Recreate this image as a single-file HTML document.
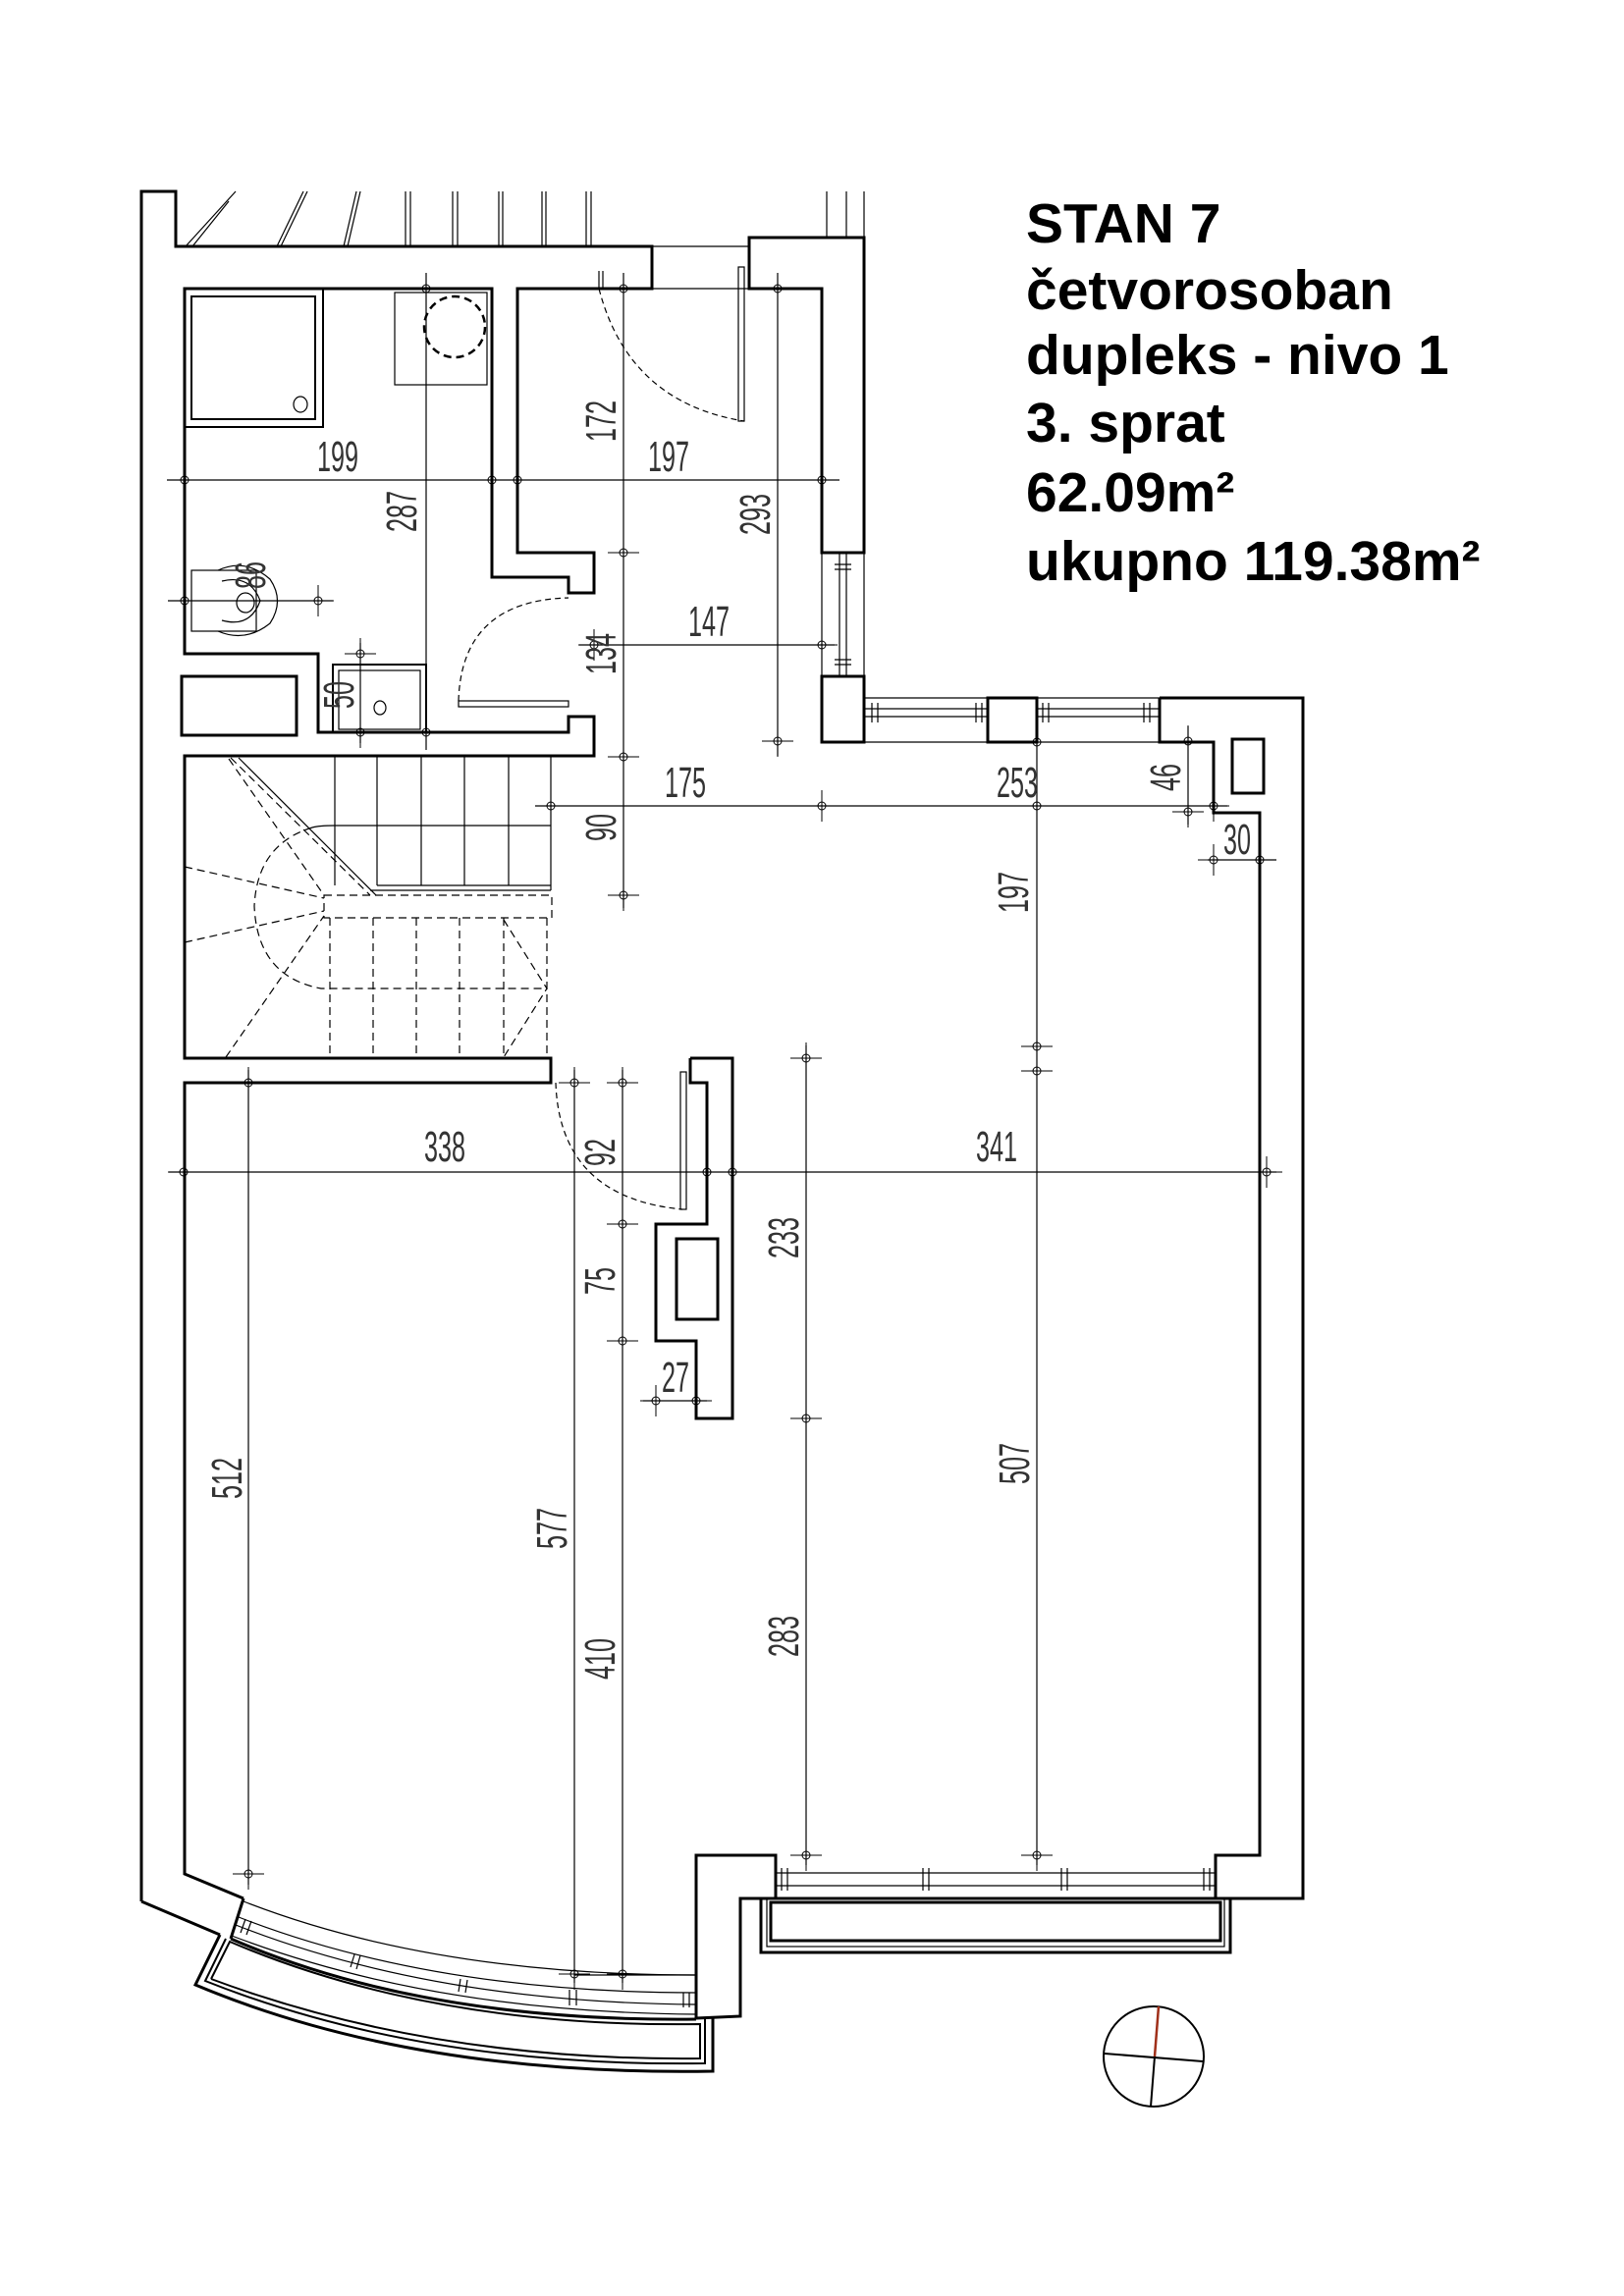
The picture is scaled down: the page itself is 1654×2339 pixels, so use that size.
<!DOCTYPE html>
<html><head><meta charset="utf-8"><style>
html,body{margin:0;padding:0;background:#fff}
svg{display:block}
.t{font-family:"Liberation Sans",sans-serif;font-size:44px;fill:#333}
.h{font-family:"Liberation Sans",sans-serif;font-size:57px;font-weight:bold;fill:#000}
</style></head><body>
<svg width="1654" height="2339" viewBox="0 0 1654 2339" xmlns="http://www.w3.org/2000/svg">
<defs>
<g id="tk"><circle r="4" fill="none" stroke="#000" stroke-width="1"/><line x1="-16" y1="0" x2="16" y2="0" stroke="#000" stroke-width="1"/><line x1="0" y1="-16" x2="0" y2="16" stroke="#000" stroke-width="1"/></g>
</defs>
<rect width="1654" height="2339" fill="#fff"/>

<text class="h" x="1045" y="247">STAN 7</text>
<text class="h" x="1045" y="315">četvorosoban</text>
<text class="h" x="1045" y="381">dupleks - nivo 1</text>
<text class="h" x="1045" y="450">3. sprat</text>
<text class="h" x="1045" y="521">62.09m²</text>
<text class="h" x="1045" y="591">ukupno 119.38m²</text>

<g fill="none" stroke="#000" stroke-width="1.2">
<line x1="240" y1="195" x2="189" y2="251"/><line x1="233" y1="205" x2="196" y2="251"/>
<line x1="313" y1="195" x2="286" y2="251"/><line x1="309" y1="195" x2="282" y2="251"/>
<line x1="367" y1="195" x2="354" y2="251"/><line x1="363" y1="195" x2="350" y2="251"/>
<line x1="413" y1="195" x2="413" y2="251"/><line x1="418" y1="195" x2="418" y2="251"/>
<line x1="461" y1="195" x2="461" y2="251"/><line x1="466" y1="195" x2="466" y2="251"/>
<line x1="508" y1="195" x2="508" y2="251"/><line x1="512" y1="195" x2="512" y2="251"/>
<line x1="552" y1="195" x2="552" y2="251"/><line x1="556" y1="195" x2="556" y2="251"/>
<line x1="597" y1="195" x2="597" y2="251"/><line x1="602" y1="195" x2="602" y2="251"/>
<line x1="842" y1="195" x2="842" y2="242"/><line x1="880" y1="195" x2="880" y2="242"/>
<line x1="862" y1="195" x2="862" y2="242"/>
<line x1="664" y1="251" x2="763" y2="251"/><line x1="664" y1="294" x2="763" y2="294"/>
</g>

<g fill="none" stroke="#000" stroke-width="3" stroke-linejoin="miter">
<polyline points="144,1937 144,195 179,195 179,251 664,251 664,294 527,294 527,563 605,563 605,604 579,604 579,588 501,588 501,294 188,294 188,666 324,666 324,746 579,746 579,730 605,730 605,770 188,770 188,1078 561,1078 561,1103 188,1103 188,1909 248,1934"/>
<line x1="144" y1="1937" x2="224" y2="1971"/>
<line x1="248" y1="1934" x2="235" y2="1975"/>
<polygon points="763,242 880,242 880,563 837,563 837,294 763,294"/>
<polygon points="837,689 880,689 880,756 837,756"/>
<polygon points="1006,711 1056,711 1056,756 1006,756"/>
<polyline points="1181,711 1327,711 1327,1934 1238,1934 1238,1890 1283,1890 1283,828 1236,828 1236,756 1181,756 1181,711"/>
<polyline points="709,2056 709,1890 790,1890 790,1934 754,1934 754,2054 709,2056"/>
<polyline points="703,1078 746,1078 746,1445 709,1445 709,1366 668,1366 668,1247 720,1247 720,1103 703,1103 703,1078"/>
<rect x="689" y="1262" width="42" height="82"/>
<rect x="185" y="689" width="117" height="60"/>
<rect x="1255" y="753" width="32" height="55"/>
<path d="M235,1975 Q430,2060 709,2057"/>
<path d="M224,1971 L199,2022 Q420,2115 726,2110 L726,2056"/>
<path d="M230,1975 L209,2018 Q430,2106 718,2102 L718,2057" stroke-width="2"/>
<path d="M215,2016 L234,1978 Q440,2066 713,2062 L713,2097 Q440,2100 215,2016" stroke-width="2"/>
<rect x="775" y="1934" width="478" height="55"/>
<rect x="785" y="1938" width="458" height="39"/>
</g>
<g fill="none" stroke="#000" stroke-width="1.2">
<rect x="781" y="1934" width="466" height="49"/>
<path d="M248,1937 Q440,2012 709,2012"/>
<path d="M243,1953 Q440,2030 709,2030"/>
<path d="M240,1961 Q440,2040 709,2042"/>
<path d="M236,1972 Q440,2050 709,2052"/>
<line x1="250" y1="1955" x2="245" y2="1969"/><line x1="256" y1="1957" x2="251" y2="1971"/>
<line x1="361" y1="1991" x2="357" y2="2004"/><line x1="367" y1="1992" x2="363" y2="2006"/>
<line x1="469" y1="2016" x2="467" y2="2029"/><line x1="476" y1="2017" x2="474" y2="2030"/>
<line x1="580" y1="2027" x2="580" y2="2043"/><line x1="587" y1="2027" x2="587" y2="2043"/>
<line x1="696" y1="2030" x2="696" y2="2045"/><line x1="702" y1="2030" x2="702" y2="2045"/>
<line x1="790" y1="1908" x2="1238" y2="1908"/><line x1="790" y1="1921" x2="1238" y2="1921"/>
<line x1="796" y1="1903" x2="796" y2="1926"/><line x1="802" y1="1903" x2="802" y2="1926"/>
<line x1="940" y1="1903" x2="940" y2="1926"/><line x1="946" y1="1903" x2="946" y2="1926"/>
<line x1="1081" y1="1903" x2="1081" y2="1926"/><line x1="1087" y1="1903" x2="1087" y2="1926"/>
<line x1="1226" y1="1903" x2="1226" y2="1926"/><line x1="1232" y1="1903" x2="1232" y2="1926"/>
<line x1="880" y1="711" x2="1181" y2="711"/><line x1="880" y1="756" x2="1181" y2="756"/>
<line x1="880" y1="722" x2="1006" y2="722"/><line x1="880" y1="730" x2="1006" y2="730"/>
<line x1="1056" y1="722" x2="1181" y2="722"/><line x1="1056" y1="730" x2="1181" y2="730"/>
<line x1="888" y1="716" x2="888" y2="736"/><line x1="894" y1="716" x2="894" y2="736"/>
<line x1="994" y1="716" x2="994" y2="736"/><line x1="1000" y1="716" x2="1000" y2="736"/>
<line x1="1062" y1="716" x2="1062" y2="736"/><line x1="1068" y1="716" x2="1068" y2="736"/>
<line x1="1165" y1="716" x2="1165" y2="736"/><line x1="1171" y1="716" x2="1171" y2="736"/>
<line x1="837" y1="563" x2="837" y2="689"/><line x1="880" y1="563" x2="880" y2="689"/>
<line x1="855" y1="563" x2="855" y2="689"/><line x1="862" y1="563" x2="862" y2="689"/>
<line x1="850" y1="575" x2="867" y2="575"/><line x1="850" y1="580" x2="867" y2="580"/>
<line x1="850" y1="672" x2="867" y2="672"/><line x1="850" y1="677" x2="867" y2="677"/>

<rect x="188" y="294" width="141" height="141" stroke-width="2"/>
<rect x="195" y="302" width="126" height="125" stroke-width="2"/>
<ellipse cx="306" cy="412" rx="7" ry="8"/>
<rect x="402" y="298" width="94" height="94"/>
<ellipse cx="463" cy="333" rx="31" ry="31" stroke-width="2.5" stroke-dasharray="8,5"/>
<rect x="195" y="581" width="66" height="62"/>
<path d="M222,581 Q250,568 275,590 Q290,612 275,635 Q250,655 222,643"/>
<path d="M226,592 Q255,585 265,612 Q255,640 226,632"/>
<ellipse cx="250" cy="614" rx="9" ry="10"/>
<rect x="339" y="677" width="95" height="69" stroke-width="2"/>
<rect x="345" y="683" width="83" height="60"/>
<ellipse cx="387" cy="721" rx="6" ry="7"/>

<path d="M610,294 Q640,410 758,429" stroke-dasharray="6,4"/>
<rect x="752" y="272" width="6" height="157"/>
<line x1="610" y1="276" x2="610" y2="294"/><line x1="614" y1="276" x2="614" y2="294"/>
<path d="M467,714 Q470,612 579,609" stroke-dasharray="6,4"/>
<rect x="467" y="714" width="112" height="6"/>
<path d="M566,1103 Q570,1220 695,1232" stroke-dasharray="6,4"/>
<rect x="693" y="1092" width="6" height="140"/>

<line x1="341" y1="771" x2="341" y2="902"/><line x1="384" y1="771" x2="384" y2="902"/>
<line x1="429" y1="771" x2="429" y2="902"/><line x1="473" y1="771" x2="473" y2="902"/>
<line x1="518" y1="771" x2="518" y2="902"/><line x1="561" y1="771" x2="561" y2="907"/>
<path d="M318,843 Q325,841 341,841 L561,841"/>
<line x1="384" y1="902" x2="561" y2="902"/><line x1="377" y1="907" x2="561" y2="907"/>
<line x1="243" y1="772" x2="383" y2="912"/>
<g stroke-dasharray="8,5">
<line x1="235" y1="772" x2="377" y2="912"/>
<line x1="233" y1="773" x2="330" y2="912"/>
<rect x="330" y="912" width="232" height="23"/>
<line x1="336" y1="935" x2="336" y2="1078"/><line x1="380" y1="935" x2="380" y2="1078"/>
<line x1="424" y1="935" x2="424" y2="1078"/><line x1="468" y1="935" x2="468" y2="1078"/>
<line x1="513" y1="935" x2="513" y2="1078"/><line x1="557" y1="935" x2="557" y2="1078"/>
<path d="M318,843 Q262,860 259,923 Q262,995 327,1007 L557,1007"/>
<line x1="188" y1="883" x2="330" y2="915"/><line x1="188" y1="960" x2="330" y2="928"/>
<line x1="230" y1="1077" x2="330" y2="933"/>
<polyline points="513,937 557,1007 513,1077"/>
</g>

<circle cx="1175" cy="2095" r="51" stroke-width="2"/>
<line x1="1125" y1="2092" x2="1225" y2="2100" stroke-width="2"/>
<line x1="1172" y1="2146" x2="1176" y2="2095" stroke-width="2"/>
<line x1="1176" y1="2095" x2="1180" y2="2044" stroke="#a0301a" stroke-width="2.5"/>

<line x1="170" y1="489" x2="855" y2="489"/>
<line x1="434" y1="278" x2="434" y2="764"/>
<line x1="635" y1="278" x2="635" y2="925"/>
<line x1="792" y1="278" x2="792" y2="770"/>
<line x1="590" y1="657" x2="850" y2="657"/>
<line x1="367" y1="655" x2="367" y2="757"/>
<line x1="171" y1="612" x2="339" y2="612"/>
<line x1="545" y1="821" x2="1250" y2="821"/>
<line x1="1056" y1="750" x2="1056" y2="1900"/>
<line x1="1210" y1="740" x2="1210" y2="840"/>
<line x1="1230" y1="876" x2="1300" y2="876"/>
<line x1="1236" y1="790" x2="1236" y2="830"/>
<line x1="172" y1="1194" x2="1300" y2="1194"/>
<line x1="585" y1="1090" x2="585" y2="2020"/>
<line x1="634" y1="1090" x2="634" y2="2020"/>
<line x1="585" y1="2012" x2="709" y2="2012"/>
<line x1="821" y1="1065" x2="821" y2="1900"/>
<line x1="253" y1="1090" x2="253" y2="1920"/>
<line x1="655" y1="1427" x2="720" y2="1427"/>
</g>
<g>
<use href="#tk" x="188" y="489"/><use href="#tk" x="501" y="489"/><use href="#tk" x="527" y="489"/><use href="#tk" x="837" y="489"/>
<use href="#tk" x="434" y="294"/><use href="#tk" x="434" y="746"/>
<use href="#tk" x="635" y="294"/><use href="#tk" x="635" y="563"/><use href="#tk" x="635" y="771"/><use href="#tk" x="635" y="912"/>
<use href="#tk" x="792" y="294"/><use href="#tk" x="792" y="755"/>
<use href="#tk" x="605" y="657"/><use href="#tk" x="837" y="657"/>
<use href="#tk" x="367" y="666"/><use href="#tk" x="367" y="746"/>
<use href="#tk" x="188" y="612"/><use href="#tk" x="324" y="612"/>
<use href="#tk" x="561" y="821"/><use href="#tk" x="837" y="821"/><use href="#tk" x="1056" y="821"/><use href="#tk" x="1236" y="821"/>
<use href="#tk" x="1056" y="756"/><use href="#tk" x="1056" y="1066"/><use href="#tk" x="1056" y="1091"/><use href="#tk" x="1056" y="1890"/>
<use href="#tk" x="1210" y="755"/><use href="#tk" x="1210" y="827"/>
<use href="#tk" x="1236" y="876"/><use href="#tk" x="1283" y="876"/>
<use href="#tk" x="187" y="1194"/><use href="#tk" x="720" y="1194"/><use href="#tk" x="746" y="1194"/><use href="#tk" x="1290" y="1194"/>
<use href="#tk" x="585" y="1103"/><use href="#tk" x="585" y="2011"/>
<use href="#tk" x="634" y="1103"/><use href="#tk" x="634" y="1247"/><use href="#tk" x="634" y="1366"/><use href="#tk" x="634" y="2011"/>
<use href="#tk" x="821" y="1078"/><use href="#tk" x="821" y="1445"/><use href="#tk" x="821" y="1890"/>
<use href="#tk" x="253" y="1103"/><use href="#tk" x="253" y="1909"/>
<use href="#tk" x="668" y="1427"/><use href="#tk" x="709" y="1427"/>
</g>

<g class="t" text-anchor="middle">
<text x="344" y="480" textLength="42" lengthAdjust="spacingAndGlyphs">199</text>
<text x="681" y="480" textLength="42" lengthAdjust="spacingAndGlyphs">197</text>
<text x="722" y="648" textLength="42" lengthAdjust="spacingAndGlyphs">147</text>
<text x="698" y="812" textLength="42" lengthAdjust="spacingAndGlyphs">175</text>
<text x="1036" y="812" textLength="42" lengthAdjust="spacingAndGlyphs">253</text>
<text x="1260" y="870" textLength="28" lengthAdjust="spacingAndGlyphs">30</text>
<text x="453" y="1183" textLength="42" lengthAdjust="spacingAndGlyphs">338</text>
<text x="1015" y="1183" textLength="42" lengthAdjust="spacingAndGlyphs">341</text>
<text x="688" y="1418" textLength="28" lengthAdjust="spacingAndGlyphs">27</text>
<text transform="translate(424,521) rotate(-90)" textLength="42" lengthAdjust="spacingAndGlyphs">287</text>
<text transform="translate(627,429) rotate(-90)" textLength="42" lengthAdjust="spacingAndGlyphs">172</text>
<text transform="translate(627,666) rotate(-90)" textLength="42" lengthAdjust="spacingAndGlyphs">134</text>
<text transform="translate(627,843) rotate(-90)" textLength="28" lengthAdjust="spacingAndGlyphs">90</text>
<text transform="translate(784,524) rotate(-90)" textLength="42" lengthAdjust="spacingAndGlyphs">293</text>
<text transform="translate(360,708) rotate(-90)" textLength="28" lengthAdjust="spacingAndGlyphs">50</text>
<text transform="translate(270,586) rotate(-90)" textLength="28" lengthAdjust="spacingAndGlyphs">86</text>
<text transform="translate(1047,909) rotate(-90)" textLength="42" lengthAdjust="spacingAndGlyphs">197</text>
<text transform="translate(1202,792) rotate(-90)" textLength="28" lengthAdjust="spacingAndGlyphs">46</text>
<text transform="translate(626,1174) rotate(-90)" textLength="28" lengthAdjust="spacingAndGlyphs">92</text>
<text transform="translate(626,1305) rotate(-90)" textLength="28" lengthAdjust="spacingAndGlyphs">75</text>
<text transform="translate(813,1261) rotate(-90)" textLength="42" lengthAdjust="spacingAndGlyphs">233</text>
<text transform="translate(246,1506) rotate(-90)" textLength="42" lengthAdjust="spacingAndGlyphs">512</text>
<text transform="translate(577,1557) rotate(-90)" textLength="42" lengthAdjust="spacingAndGlyphs">577</text>
<text transform="translate(626,1690) rotate(-90)" textLength="42" lengthAdjust="spacingAndGlyphs">410</text>
<text transform="translate(813,1667) rotate(-90)" textLength="42" lengthAdjust="spacingAndGlyphs">283</text>
<text transform="translate(1048,1491) rotate(-90)" textLength="42" lengthAdjust="spacingAndGlyphs">507</text>
</g>
</svg>
</body></html>
